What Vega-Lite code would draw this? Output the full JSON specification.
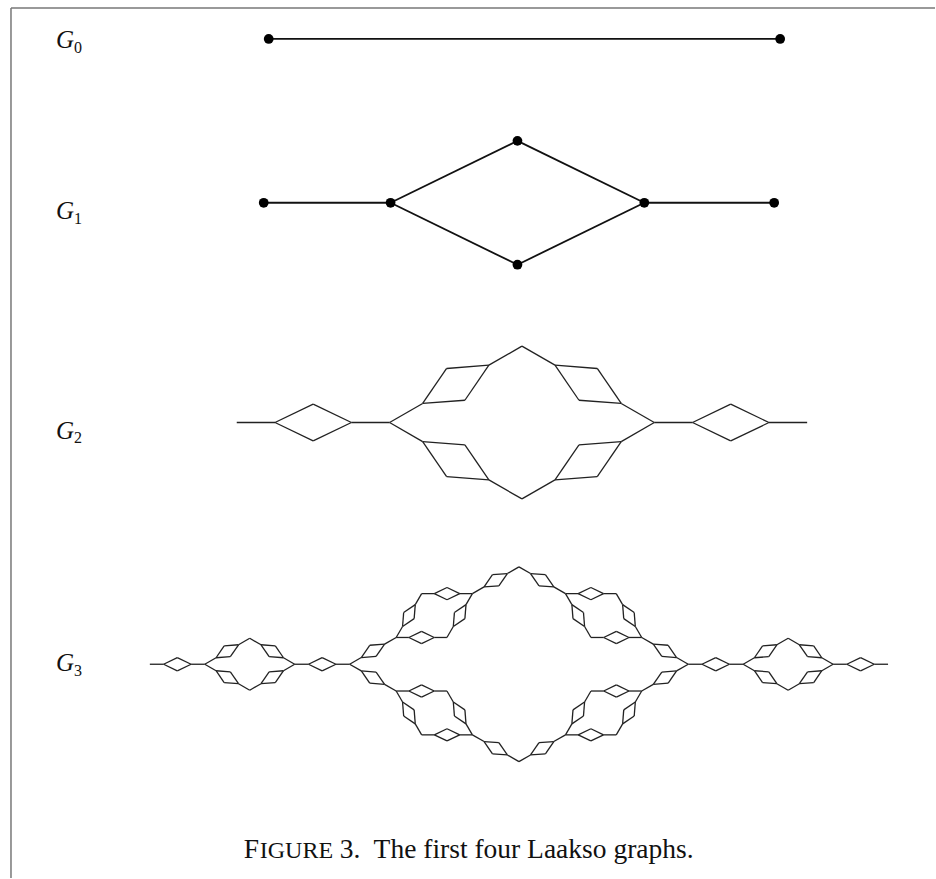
{
"$schema": "https://vega.github.io/schema/vega-lite/v6.json",
"width": 936, "height": 879,
"autosize": {"type": "fit", "contains": "padding"},
"padding": 0,
"background": "white",
"config": {"view": {"stroke": null}},
"datasets": {
"frame": [{"x":11,"y":8,"x2":936,"y2":8},{"x":11,"y":8,"x2":11,"y2":879}],
"thick": [
{"x":269,"y":39,"x2":781,"y2":39},
{"x":264,"y":203,"x2":391,"y2":203},
{"x":391,"y":203,"x2":518,"y2":141},
{"x":518,"y":141,"x2":645,"y2":203},
{"x":391,"y":203,"x2":518,"y2":265},
{"x":518,"y":265,"x2":645,"y2":203},
{"x":645,"y":203,"x2":775,"y2":203}],
"dots": [{"x":269,"y":39},{"x":781,"y":39},{"x":264,"y":203},{"x":391,"y":203},{"x":518,"y":141},{"x":518,"y":265},{"x":645,"y":203},{"x":775,"y":203}],
"thin": [
{"x":237,"y":423,"x2":275.3,"y2":423},{"x":275.3,"y":423,"x2":313.5,"y2":404.6},{"x":313.5,"y":404.6,"x2":351.8,"y2":423},{"x":275.3,"y":423,"x2":313.5,"y2":441.4},{"x":313.5,"y":441.4,"x2":351.8,"y2":423},{"x":351.8,"y":423,"x2":390,"y2":423},
{"x":655,"y":423,"x2":693.3,"y2":423},{"x":693.3,"y":423,"x2":731.5,"y2":404.6},{"x":731.5,"y":404.6,"x2":769.8,"y2":423},{"x":693.3,"y":423,"x2":731.5,"y2":441.4},{"x":731.5,"y":441.4,"x2":769.8,"y2":423},{"x":769.8,"y":423,"x2":808,"y2":423},
{"x":390,"y":423,"x2":423.1,"y2":403.9},{"x":423.1,"y":403.9,"x2":465.4,"y2":400.7},{"x":465.4,"y":400.7,"x2":489.4,"y2":365.6},{"x":423.1,"y":403.9,"x2":447.1,"y2":368.9},{"x":447.1,"y":368.9,"x2":489.4,"y2":365.6},{"x":489.4,"y":365.6,"x2":522.5,"y2":346.5},
{"x":522.5,"y":346.5,"x2":555.6,"y2":365.6},{"x":555.6,"y":365.6,"x2":579.6,"y2":400.7},{"x":579.6,"y":400.7,"x2":621.9,"y2":403.9},{"x":555.6,"y":365.6,"x2":597.9,"y2":368.9},{"x":597.9,"y":368.9,"x2":621.9,"y2":403.9},{"x":621.9,"y":403.9,"x2":655,"y2":423},
{"x":390,"y":423,"x2":423.1,"y2":442.1},{"x":423.1,"y":442.1,"x2":447.1,"y2":477.2},{"x":447.1,"y":477.2,"x2":489.4,"y2":480.4},{"x":423.1,"y":442.1,"x2":465.4,"y2":445.4},{"x":465.4,"y":445.4,"x2":489.4,"y2":480.4},{"x":489.4,"y":480.4,"x2":522.5,"y2":499.5},
{"x":522.5,"y":499.5,"x2":555.6,"y2":480.4},{"x":555.6,"y":480.4,"x2":597.9,"y2":477.2},{"x":597.9,"y":477.2,"x2":621.9,"y2":442.1},{"x":555.6,"y":480.4,"x2":579.6,"y2":445.4},{"x":579.6,"y":445.4,"x2":621.9,"y2":442.1},{"x":621.9,"y":442.1,"x2":655,"y2":423},

{"x":150,"y":665,"x2":163.8,"y2":665},{"x":163.8,"y":665,"x2":177.5,"y2":658.4},{"x":177.5,"y":658.4,"x2":191.3,"y2":665},{"x":163.8,"y":665,"x2":177.5,"y2":671.6},{"x":177.5,"y":671.6,"x2":191.3,"y2":665},{"x":191.3,"y":665,"x2":205,"y2":665},
{"x":205,"y":665,"x2":216.3,"y2":658.5},{"x":216.3,"y":658.5,"x2":230.6,"y2":657.4},{"x":230.6,"y":657.4,"x2":238.8,"y2":645.5},{"x":216.3,"y":658.5,"x2":224.4,"y2":646.6},{"x":224.4,"y":646.6,"x2":238.8,"y2":645.5},{"x":238.8,"y":645.5,"x2":250,"y2":639},
{"x":250,"y":639,"x2":261.3,"y2":645.5},{"x":261.3,"y":645.5,"x2":269.4,"y2":657.4},{"x":269.4,"y":657.4,"x2":283.8,"y2":658.5},{"x":261.3,"y":645.5,"x2":275.6,"y2":646.6},{"x":275.6,"y":646.6,"x2":283.8,"y2":658.5},{"x":283.8,"y":658.5,"x2":295,"y2":665},
{"x":205,"y":665,"x2":216.3,"y2":671.5},{"x":216.3,"y":671.5,"x2":224.4,"y2":683.4},{"x":224.4,"y":683.4,"x2":238.8,"y2":684.5},{"x":216.3,"y":671.5,"x2":230.6,"y2":672.6},{"x":230.6,"y":672.6,"x2":238.8,"y2":684.5},{"x":238.8,"y":684.5,"x2":250,"y2":691},
{"x":250,"y":691,"x2":261.3,"y2":684.5},{"x":261.3,"y":684.5,"x2":275.6,"y2":683.4},{"x":275.6,"y":683.4,"x2":283.8,"y2":671.5},{"x":261.3,"y":684.5,"x2":269.4,"y2":672.6},{"x":269.4,"y":672.6,"x2":283.8,"y2":671.5},{"x":283.8,"y":671.5,"x2":295,"y2":665},
{"x":295,"y":665,"x2":308.8,"y2":665},{"x":308.8,"y":665,"x2":322.5,"y2":658.4},{"x":322.5,"y":658.4,"x2":336.3,"y2":665},{"x":308.8,"y":665,"x2":322.5,"y2":671.6},{"x":322.5,"y":671.6,"x2":336.3,"y2":665},{"x":336.3,"y":665,"x2":350,"y2":665},

{"x":889,"y":665,"x2":875.2,"y2":665},{"x":875.2,"y":665,"x2":861.5,"y2":658.4},{"x":861.5,"y":658.4,"x2":847.7,"y2":665},{"x":875.2,"y":665,"x2":861.5,"y2":671.6},{"x":861.5,"y":671.6,"x2":847.7,"y2":665},{"x":847.7,"y":665,"x2":834,"y2":665},
{"x":834,"y":665,"x2":822.7,"y2":658.5},{"x":822.7,"y":658.5,"x2":808.4,"y2":657.4},{"x":808.4,"y":657.4,"x2":800.2,"y2":645.5},{"x":822.7,"y":658.5,"x2":814.6,"y2":646.6},{"x":814.6,"y":646.6,"x2":800.2,"y2":645.5},{"x":800.2,"y":645.5,"x2":789,"y2":639},
{"x":789,"y":639,"x2":777.7,"y2":645.5},{"x":777.7,"y":645.5,"x2":769.6,"y2":657.4},{"x":769.6,"y":657.4,"x2":755.2,"y2":658.5},{"x":777.7,"y":645.5,"x2":763.4,"y2":646.6},{"x":763.4,"y":646.6,"x2":755.2,"y2":658.5},{"x":755.2,"y":658.5,"x2":744,"y2":665},
{"x":834,"y":665,"x2":822.7,"y2":671.5},{"x":822.7,"y":671.5,"x2":814.6,"y2":683.4},{"x":814.6,"y":683.4,"x2":800.2,"y2":684.5},{"x":822.7,"y":671.5,"x2":808.4,"y2":672.6},{"x":808.4,"y":672.6,"x2":800.2,"y2":684.5},{"x":800.2,"y":684.5,"x2":789,"y2":691},
{"x":789,"y":691,"x2":777.7,"y2":684.5},{"x":777.7,"y":684.5,"x2":763.4,"y2":683.4},{"x":763.4,"y":683.4,"x2":755.2,"y2":671.5},{"x":777.7,"y":684.5,"x2":769.6,"y2":672.6},{"x":769.6,"y":672.6,"x2":755.2,"y2":671.5},{"x":755.2,"y":671.5,"x2":744,"y2":665},
{"x":744,"y":665,"x2":730.2,"y2":665},{"x":730.2,"y":665,"x2":716.5,"y2":658.4},{"x":716.5,"y":658.4,"x2":702.7,"y2":665},{"x":730.2,"y":665,"x2":716.5,"y2":671.6},{"x":716.5,"y":671.6,"x2":702.7,"y2":665},{"x":702.7,"y":665,"x2":689,"y2":665},

{"x":350,"y":665,"x2":361.7,"y2":658.3},{"x":361.7,"y":658.3,"x2":376.5,"y2":657.2},{"x":376.5,"y":657.2,"x2":385,"y2":644.9},{"x":361.7,"y":658.3,"x2":370.1,"y2":646},{"x":370.1,"y":646,"x2":385,"y2":644.9},{"x":385,"y":644.9,"x2":396.6,"y2":638.2},
{"x":396.6,"y":638.2,"x2":403,"y2":627.2},{"x":403,"y":627.2,"x2":414.6,"y2":619.3},{"x":414.6,"y":619.3,"x2":415.7,"y2":605.3},{"x":403,"y":627.2,"x2":404.1,"y2":613.2},{"x":404.1,"y":613.2,"x2":415.7,"y2":605.3},{"x":415.7,"y":605.3,"x2":422.1,"y2":594.3},
{"x":422.1,"y":594.3,"x2":434.8,"y2":594.3},{"x":434.8,"y":594.3,"x2":447.5,"y2":600.4},{"x":447.5,"y":600.4,"x2":460.2,"y2":594.3},{"x":434.8,"y":594.3,"x2":447.5,"y2":588.2},{"x":447.5,"y":588.2,"x2":460.2,"y2":594.3},{"x":460.2,"y":594.3,"x2":472.9,"y2":594.3},
{"x":396.6,"y":638.2,"x2":409.3,"y2":638.2},{"x":409.3,"y":638.2,"x2":422,"y2":644.3},{"x":422,"y":644.3,"x2":434.7,"y2":638.2},{"x":409.3,"y":638.2,"x2":422,"y2":632.1},{"x":422,"y":632.1,"x2":434.7,"y2":638.2},{"x":434.7,"y":638.2,"x2":447.4,"y2":638.2},
{"x":447.4,"y":638.2,"x2":453.8,"y2":627.2},{"x":453.8,"y":627.2,"x2":465.4,"y2":619.3},{"x":465.4,"y":619.3,"x2":466.5,"y2":605.3},{"x":453.8,"y":627.2,"x2":454.9,"y2":613.2},{"x":454.9,"y":613.2,"x2":466.5,"y2":605.3},{"x":466.5,"y":605.3,"x2":472.9,"y2":594.3},
{"x":472.9,"y":594.3,"x2":484.6,"y2":587.6},{"x":484.6,"y":587.6,"x2":499.4,"y2":586.5},{"x":499.4,"y":586.5,"x2":507.9,"y2":574.2},{"x":484.6,"y":587.6,"x2":493,"y2":575.3},{"x":493,"y":575.3,"x2":507.9,"y2":574.2},{"x":507.9,"y":574.2,"x2":519.5,"y2":567.5},

{"x":689,"y":665,"x2":677.3,"y2":658.3},{"x":677.3,"y":658.3,"x2":662.5,"y2":657.2},{"x":662.5,"y":657.2,"x2":654,"y2":644.9},{"x":677.3,"y":658.3,"x2":668.9,"y2":646},{"x":668.9,"y":646,"x2":654,"y2":644.9},{"x":654,"y":644.9,"x2":642.4,"y2":638.2},
{"x":642.4,"y":638.2,"x2":636,"y2":627.2},{"x":636,"y":627.2,"x2":624.4,"y2":619.3},{"x":624.4,"y":619.3,"x2":623.3,"y2":605.3},{"x":636,"y":627.2,"x2":634.9,"y2":613.2},{"x":634.9,"y":613.2,"x2":623.3,"y2":605.3},{"x":623.3,"y":605.3,"x2":616.9,"y2":594.3},
{"x":616.9,"y":594.3,"x2":604.2,"y2":594.3},{"x":604.2,"y":594.3,"x2":591.5,"y2":600.4},{"x":591.5,"y":600.4,"x2":578.8,"y2":594.3},{"x":604.2,"y":594.3,"x2":591.5,"y2":588.2},{"x":591.5,"y":588.2,"x2":578.8,"y2":594.3},{"x":578.8,"y":594.3,"x2":566.1,"y2":594.3},
{"x":642.4,"y":638.2,"x2":629.7,"y2":638.2},{"x":629.7,"y":638.2,"x2":617,"y2":644.3},{"x":617,"y":644.3,"x2":604.3,"y2":638.2},{"x":629.7,"y":638.2,"x2":617,"y2":632.1},{"x":617,"y":632.1,"x2":604.3,"y2":638.2},{"x":604.3,"y":638.2,"x2":591.6,"y2":638.2},
{"x":591.6,"y":638.2,"x2":585.2,"y2":627.2},{"x":585.2,"y":627.2,"x2":573.6,"y2":619.3},{"x":573.6,"y":619.3,"x2":572.5,"y2":605.3},{"x":585.2,"y":627.2,"x2":584.1,"y2":613.2},{"x":584.1,"y":613.2,"x2":572.5,"y2":605.3},{"x":572.5,"y":605.3,"x2":566.1,"y2":594.3},
{"x":566.1,"y":594.3,"x2":554.4,"y2":587.6},{"x":554.4,"y":587.6,"x2":539.6,"y2":586.5},{"x":539.6,"y":586.5,"x2":531.1,"y2":574.2},{"x":554.4,"y":587.6,"x2":546,"y2":575.3},{"x":546,"y":575.3,"x2":531.1,"y2":574.2},{"x":531.1,"y":574.2,"x2":519.5,"y2":567.5},

{"x":350,"y":665,"x2":361.7,"y2":671.7},{"x":361.7,"y":671.7,"x2":376.5,"y2":672.8},{"x":376.5,"y":672.8,"x2":385,"y2":685.1},{"x":361.7,"y":671.7,"x2":370.1,"y2":684},{"x":370.1,"y":684,"x2":385,"y2":685.1},{"x":385,"y":685.1,"x2":396.6,"y2":691.8},
{"x":396.6,"y":691.8,"x2":403,"y2":702.8},{"x":403,"y":702.8,"x2":414.6,"y2":710.7},{"x":414.6,"y":710.7,"x2":415.7,"y2":724.7},{"x":403,"y":702.8,"x2":404.1,"y2":716.8},{"x":404.1,"y":716.8,"x2":415.7,"y2":724.7},{"x":415.7,"y":724.7,"x2":422.1,"y2":735.7},
{"x":422.1,"y":735.7,"x2":434.8,"y2":735.7},{"x":434.8,"y":735.7,"x2":447.5,"y2":729.6},{"x":447.5,"y":729.6,"x2":460.2,"y2":735.7},{"x":434.8,"y":735.7,"x2":447.5,"y2":741.8},{"x":447.5,"y":741.8,"x2":460.2,"y2":735.7},{"x":460.2,"y":735.7,"x2":472.9,"y2":735.7},
{"x":396.6,"y":691.8,"x2":409.3,"y2":691.8},{"x":409.3,"y":691.8,"x2":422,"y2":685.7},{"x":422,"y":685.7,"x2":434.7,"y2":691.8},{"x":409.3,"y":691.8,"x2":422,"y2":697.9},{"x":422,"y":697.9,"x2":434.7,"y2":691.8},{"x":434.7,"y":691.8,"x2":447.4,"y2":691.8},
{"x":447.4,"y":691.8,"x2":453.8,"y2":702.8},{"x":453.8,"y":702.8,"x2":465.4,"y2":710.7},{"x":465.4,"y":710.7,"x2":466.5,"y2":724.7},{"x":453.8,"y":702.8,"x2":454.9,"y2":716.8},{"x":454.9,"y":716.8,"x2":466.5,"y2":724.7},{"x":466.5,"y":724.7,"x2":472.9,"y2":735.7},
{"x":472.9,"y":735.7,"x2":484.6,"y2":742.4},{"x":484.6,"y":742.4,"x2":499.4,"y2":743.5},{"x":499.4,"y":743.5,"x2":507.9,"y2":755.8},{"x":484.6,"y":742.4,"x2":493,"y2":754.7},{"x":493,"y":754.7,"x2":507.9,"y2":755.8},{"x":507.9,"y":755.8,"x2":519.5,"y2":762.5},

{"x":689,"y":665,"x2":677.3,"y2":671.7},{"x":677.3,"y":671.7,"x2":662.5,"y2":672.8},{"x":662.5,"y":672.8,"x2":654,"y2":685.1},{"x":677.3,"y":671.7,"x2":668.9,"y2":684},{"x":668.9,"y":684,"x2":654,"y2":685.1},{"x":654,"y":685.1,"x2":642.4,"y2":691.8},
{"x":642.4,"y":691.8,"x2":636,"y2":702.8},{"x":636,"y":702.8,"x2":624.4,"y2":710.7},{"x":624.4,"y":710.7,"x2":623.3,"y2":724.7},{"x":636,"y":702.8,"x2":634.9,"y2":716.8},{"x":634.9,"y":716.8,"x2":623.3,"y2":724.7},{"x":623.3,"y":724.7,"x2":616.9,"y2":735.7},
{"x":616.9,"y":735.7,"x2":604.2,"y2":735.7},{"x":604.2,"y":735.7,"x2":591.5,"y2":729.6},{"x":591.5,"y":729.6,"x2":578.8,"y2":735.7},{"x":604.2,"y":735.7,"x2":591.5,"y2":741.8},{"x":591.5,"y":741.8,"x2":578.8,"y2":735.7},{"x":578.8,"y":735.7,"x2":566.1,"y2":735.7},
{"x":642.4,"y":691.8,"x2":629.7,"y2":691.8},{"x":629.7,"y":691.8,"x2":617,"y2":685.7},{"x":617,"y":685.7,"x2":604.3,"y2":691.8},{"x":629.7,"y":691.8,"x2":617,"y2":697.9},{"x":617,"y":697.9,"x2":604.3,"y2":691.8},{"x":604.3,"y":691.8,"x2":591.6,"y2":691.8},
{"x":591.6,"y":691.8,"x2":585.2,"y2":702.8},{"x":585.2,"y":702.8,"x2":573.6,"y2":710.7},{"x":573.6,"y":710.7,"x2":572.5,"y2":724.7},{"x":585.2,"y":702.8,"x2":584.1,"y2":716.8},{"x":584.1,"y":716.8,"x2":572.5,"y2":724.7},{"x":572.5,"y":724.7,"x2":566.1,"y2":735.7},
{"x":566.1,"y":735.7,"x2":554.4,"y2":742.4},{"x":554.4,"y":742.4,"x2":539.6,"y2":743.5},{"x":539.6,"y":743.5,"x2":531.1,"y2":755.8},{"x":554.4,"y":742.4,"x2":546,"y2":754.7},{"x":546,"y":754.7,"x2":531.1,"y2":755.8},{"x":531.1,"y":755.8,"x2":519.5,"y2":762.5}
],
"glab": [{"t":"G","x":56,"y":48},{"t":"G","x":56,"y":219},{"t":"G","x":56,"y":439},{"t":"G","x":56,"y":672}],
"gsub": [{"t":"0","x":74,"y":53},{"t":"1","x":74,"y":224},{"t":"2","x":74,"y":444},{"t":"3","x":74,"y":677}],
"capbig": [{"t":"F","x":244,"y":859},{"t":"3.","x":340,"y":859},{"t":"The first four Laakso graphs.","x":374,"y":859}],
"capsmall": [{"t":"IGURE","x":260,"y":859}]
},
"layer": [
{"data": {"name": "frame"}, "mark": {"type": "rule", "color": "#777777", "strokeWidth": 1.5},
 "encoding": {"x": {"field": "x", "type": "quantitative", "scale": {"domain": [0, 936], "nice": false, "zero": false}, "axis": null},
  "y": {"field": "y", "type": "quantitative", "scale": {"domain": [0, 879], "nice": false, "zero": false, "reverse": true}, "axis": null},
  "x2": {"field": "x2"}, "y2": {"field": "y2"}}},
{"data": {"name": "thick"}, "mark": {"type": "rule", "color": "#111111", "strokeWidth": 1.8},
 "encoding": {"x": {"field": "x", "type": "quantitative"}, "y": {"field": "y", "type": "quantitative"}, "x2": {"field": "x2"}, "y2": {"field": "y2"}}},
{"data": {"name": "thin"}, "mark": {"type": "rule", "color": "#222222", "strokeWidth": 1.3},
 "encoding": {"x": {"field": "x", "type": "quantitative"}, "y": {"field": "y", "type": "quantitative"}, "x2": {"field": "x2"}, "y2": {"field": "y2"}}},
{"data": {"name": "dots"}, "mark": {"type": "circle", "color": "#000000", "size": 95, "opacity": 1},
 "encoding": {"x": {"field": "x", "type": "quantitative"}, "y": {"field": "y", "type": "quantitative"}}},
{"data": {"name": "glab"}, "mark": {"type": "text", "font": "Liberation Serif", "fontStyle": "italic", "fontSize": 25, "align": "left", "baseline": "alphabetic", "color": "#111111"},
 "encoding": {"x": {"field": "x", "type": "quantitative"}, "y": {"field": "y", "type": "quantitative"}, "text": {"field": "t"}}},
{"data": {"name": "gsub"}, "mark": {"type": "text", "font": "Liberation Serif", "fontSize": 16, "align": "left", "baseline": "alphabetic", "color": "#111111"},
 "encoding": {"x": {"field": "x", "type": "quantitative"}, "y": {"field": "y", "type": "quantitative"}, "text": {"field": "t"}}},
{"data": {"name": "capbig"}, "mark": {"type": "text", "font": "Liberation Serif", "fontSize": 27.5, "align": "left", "baseline": "alphabetic", "color": "#111111"},
 "encoding": {"x": {"field": "x", "type": "quantitative"}, "y": {"field": "y", "type": "quantitative"}, "text": {"field": "t"}}},
{"data": {"name": "capsmall"}, "mark": {"type": "text", "font": "Liberation Serif", "fontSize": 24, "align": "left", "baseline": "alphabetic", "color": "#111111"},
 "encoding": {"x": {"field": "x", "type": "quantitative"}, "y": {"field": "y", "type": "quantitative"}, "text": {"field": "t"}}}
]
}
